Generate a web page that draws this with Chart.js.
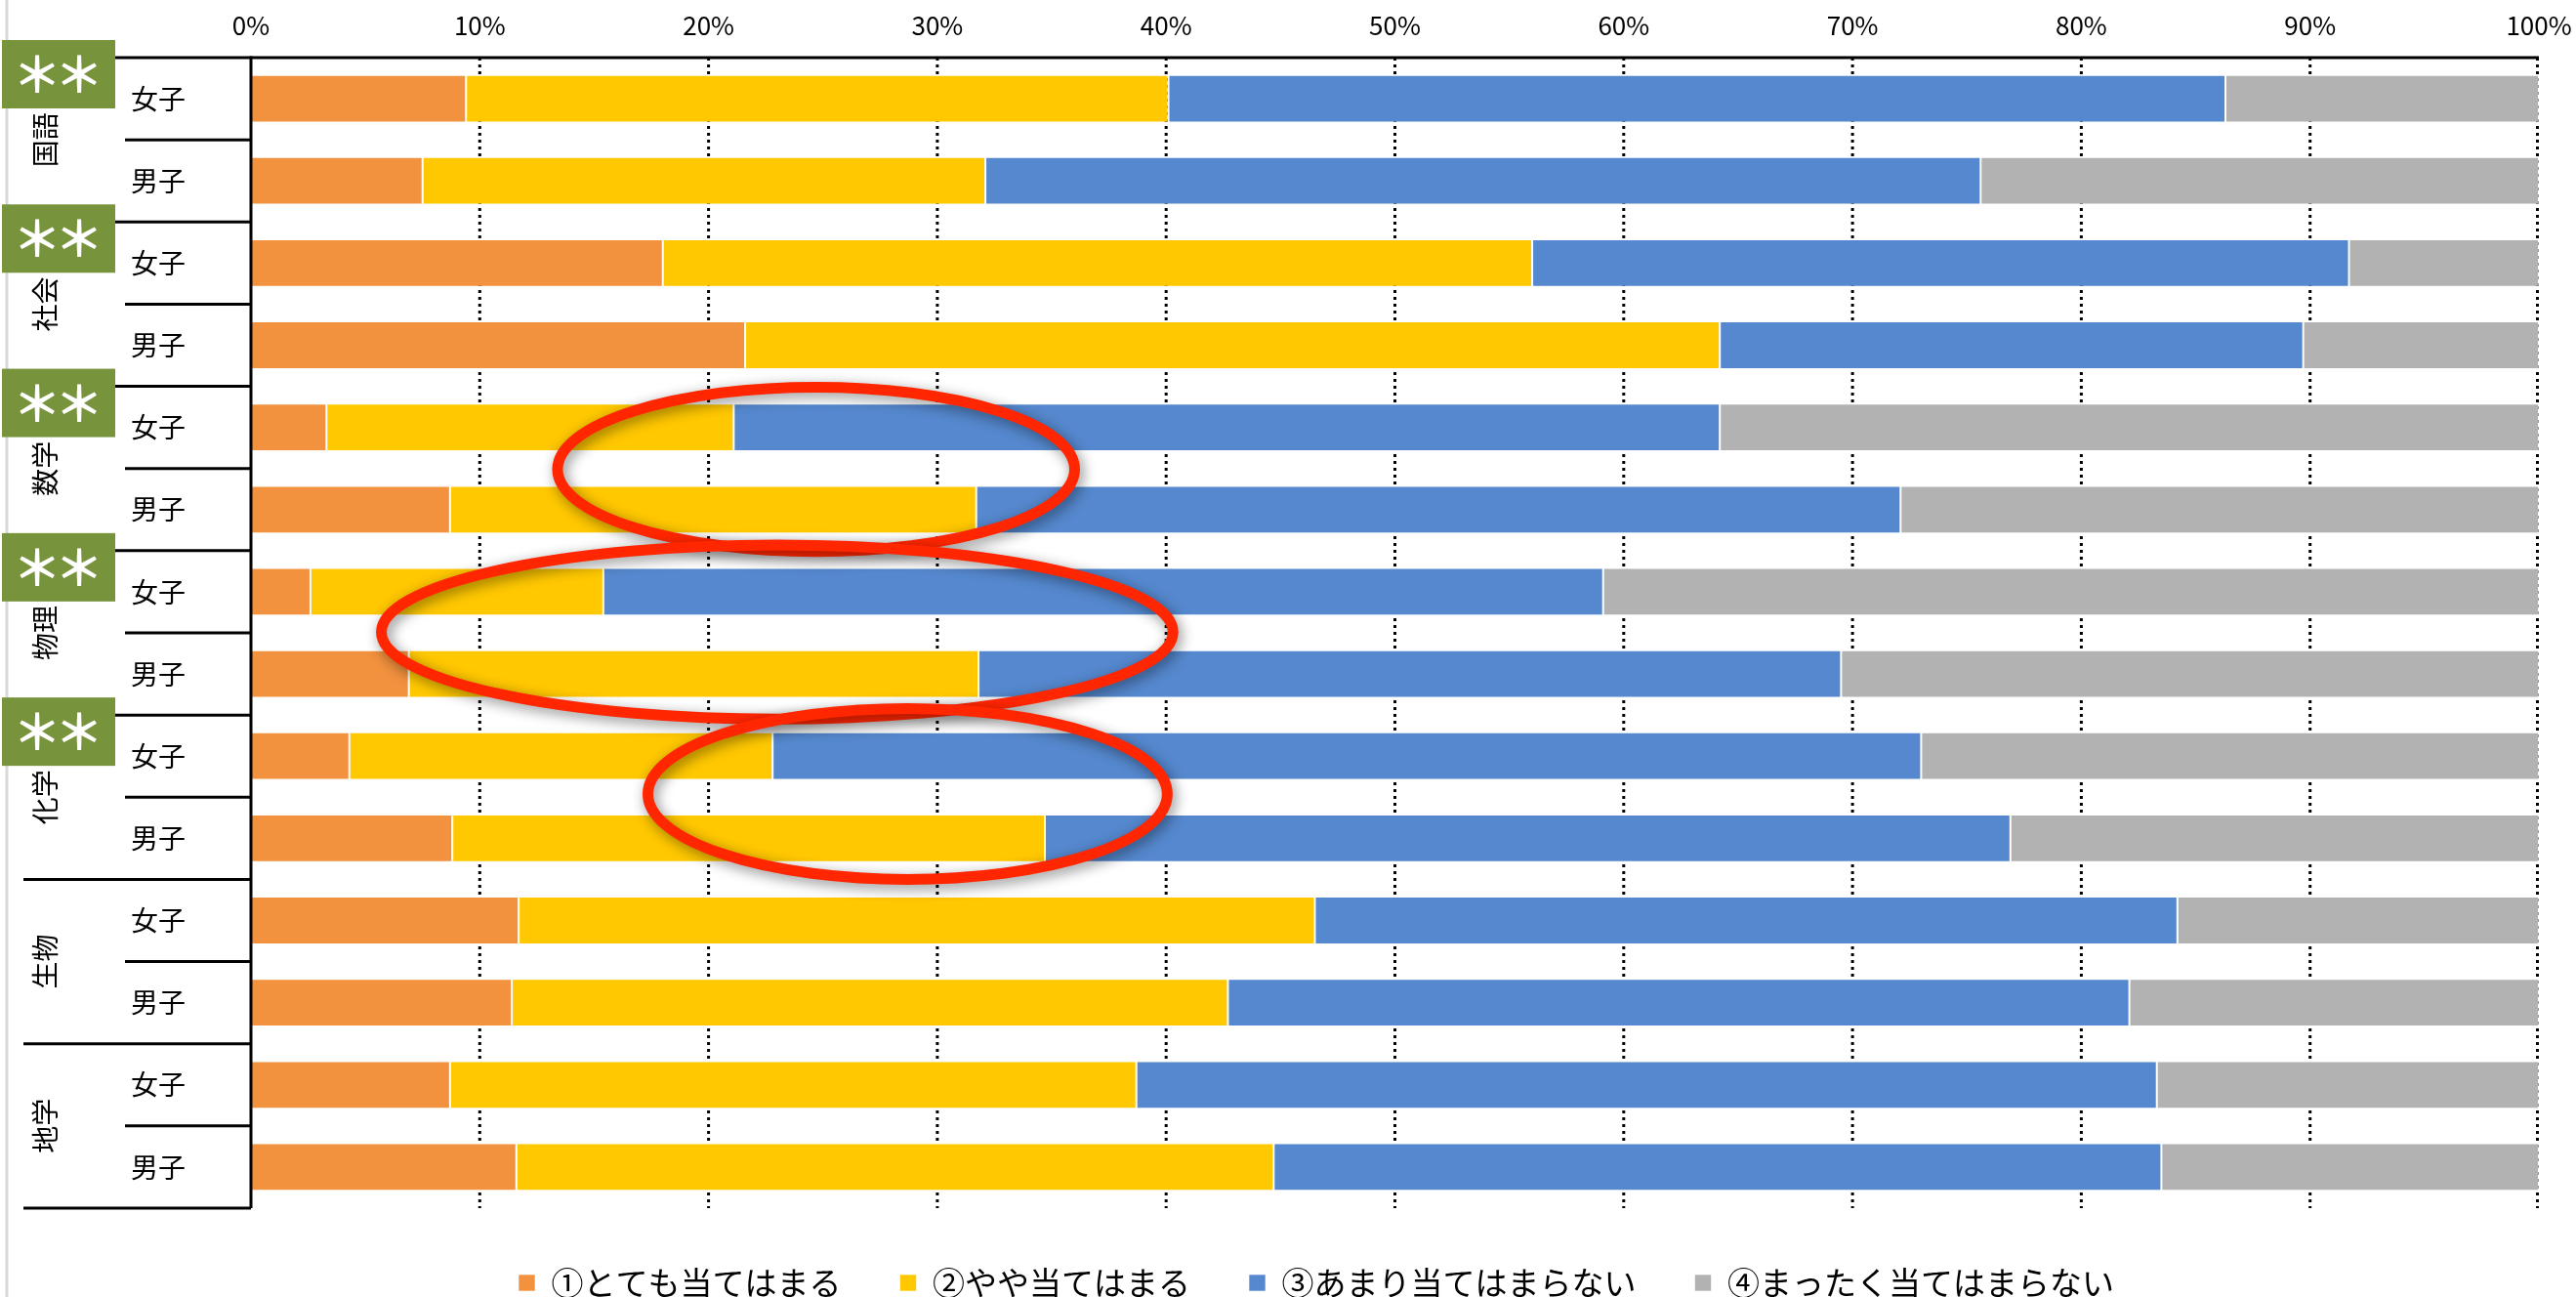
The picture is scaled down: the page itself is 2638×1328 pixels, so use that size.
<!DOCTYPE html>
<html><head><meta charset="utf-8">
<script src="https://cdn.jsdelivr.net/npm/chart.js@4.4.1/dist/chart.umd.min.js"></script>
<style>html,body{margin:0;padding:0;background:#fff;}</style>
</head><body>
<canvas id="c" width="2638" height="1328" style="width:2638px;height:1328px;display:block"></canvas>
<script>
// ---- data ----
const subjects = ['国語','社会','数学','物理','化学','生物','地学'];
const genders = ['女子','男子'];
const significant = [true, true, true, true, true, false, false];
const seriesNames = ['①とても当てはまる','②やや当てはまる','③あまり当てはまらない','④まったく当てはまらない'];
const veryTrue   = [9.4, 7.5, 18.0, 21.6, 3.3, 8.7, 2.6, 6.9, 4.3, 8.8, 11.7, 11.4, 8.7, 11.6];
const someTrue   = [30.7, 24.6, 38.0, 42.6, 17.8, 23.0, 12.8, 24.9, 18.5, 25.9, 34.8, 31.3, 30.0, 33.1];
const notMuch    = [46.2, 43.5, 35.7, 25.5, 43.1, 40.4, 43.7, 37.7, 50.2, 42.2, 37.7, 39.4, 44.6, 38.8];
const notAtAll   = [13.7, 24.4, 8.3, 10.3, 35.8, 27.9, 40.9, 30.5, 27.0, 23.1, 15.8, 17.9, 16.7, 16.5];
const xTickValues = [0, 10, 20, 30, 40, 50, 60, 70, 80, 90, 100];
// highlight ellipses (in data units: % on x, category index on y)
const hlCenterX = [24.7, 23.0, 28.7];
const hlCenterY = [4.51, 6.49, 8.46];
const hlRadiusX = [11.3, 17.3, 11.35];
const hlRadiusY = [1.0, 1.06, 1.04];

// ---- styles ----
const FONT = '"Noto Sans CJK JP", "Noto Sans", sans-serif';
const colors = ['rgb(242,145,62)', 'rgb(255,200,0)', 'rgb(85,136,206)', 'rgb(178,178,178)'];
const rowLabels = subjects.flatMap(() => genders);
const seriesData = [veryTrue, someTrue, notMuch, notAtAll];

const deco = {
  id: 'deco',
  beforeDatasetsDraw(chart) {
    const {ctx, chartArea: a, scales: {x}} = chart;
    ctx.save();
    ctx.strokeStyle = '#D9D9D9'; ctx.lineWidth = 3;
    ctx.beginPath(); ctx.moveTo(7, 0); ctx.lineTo(7, chart.height); ctx.stroke();
    ctx.strokeStyle = '#000'; ctx.lineWidth = 3; ctx.setLineDash([3, 4]);
    x.ticks.forEach(t => {
      if (t.value === 0) return;
      const px = Math.min(x.getPixelForValue(t.value), a.right - 1.5);
      ctx.beginPath(); ctx.moveTo(px, a.top); ctx.lineTo(px, a.bottom); ctx.stroke();
    });
    ctx.restore();
  },
  afterDatasetsDraw(chart) {
    const {ctx, chartArea: a, scales: {y}} = chart;
    ctx.save();
    ctx.strokeStyle = '#000'; ctx.lineWidth = 3; ctx.setLineDash([]);
    ctx.beginPath(); ctx.moveTo(a.left, a.top); ctx.lineTo(a.right, a.top); ctx.stroke();
    ctx.beginPath(); ctx.moveTo(a.left, a.top - 1.5); ctx.lineTo(a.left, a.bottom); ctx.stroke();
    for (let g = 0; g <= subjects.length; g++) {
      const yb = y.getPixelForValue(g * 2 - 0.5);
      ctx.beginPath(); ctx.moveTo(24, yb); ctx.lineTo(a.left, yb); ctx.stroke();
    }
    for (let g = 0; g < subjects.length; g++) {
      const yb = y.getPixelForValue(g * 2 + 0.5);
      ctx.beginPath(); ctx.moveTo(128, yb); ctx.lineTo(a.left, yb); ctx.stroke();
    }
    ctx.fillStyle = '#000'; ctx.font = '28px ' + FONT;
    ctx.textAlign = 'center'; ctx.textBaseline = 'middle';
    subjects.forEach((s, g) => {
      const cy = y.getPixelForValue(g * 2 + 0.5);
      ctx.save(); ctx.translate(46, cy); ctx.rotate(-Math.PI / 2);
      ctx.fillText(s, 0, 0); ctx.restore();
    });
    subjects.forEach((s, g) => {
      if (!significant[g]) return;
      const top = y.getPixelForValue(g * 2 - 0.5);
      ctx.fillStyle = 'rgb(119,147,60)';
      ctx.fillRect(2, top - 18, 116, 70);
      ctx.fillStyle = '#fff'; ctx.font = 'bold 50px ' + FONT;
      ctx.textAlign = 'center'; ctx.textBaseline = 'middle';
      ctx.fillText('＊', 38, top + 17);
      ctx.fillText('＊', 81, top + 17);
    });
    ctx.restore();
  },
  afterDraw(chart) {
    const {ctx, scales: {x, y}} = chart;
    ctx.save();
    hlCenterX.forEach((cxv, i) => {
      const cx = x.getPixelForValue(cxv);
      const rx = x.getPixelForValue(cxv + hlRadiusX[i]) - cx;
      const cy = y.getPixelForValue(hlCenterY[i]);
      const ry = y.getPixelForValue(hlCenterY[i] + hlRadiusY[i]) - cy;
      ctx.shadowColor = 'rgba(0,0,0,0.45)'; ctx.shadowBlur = 14;
      ctx.shadowOffsetX = 3; ctx.shadowOffsetY = 4;
      ctx.strokeStyle = 'rgb(255,38,0)'; ctx.lineWidth = 11;
      ctx.beginPath(); ctx.ellipse(cx, cy, rx, ry, 0, 0, Math.PI * 2); ctx.stroke();
    });
    ctx.restore();
  }
};

new Chart(document.getElementById('c'), {
  type: 'bar',
  data: {
    labels: rowLabels,
    datasets: seriesNames.map((n, i) => ({
      label: n, data: seriesData[i], backgroundColor: colors[i],
      borderColor: 'rgba(255,255,255,0.6)', borderWidth: 1, borderSkipped: false,
      barPercentage: 0.58, categoryPercentage: 1.0
    }))
  },
  options: {
    indexAxis: 'y', responsive: false, animation: false,
    layout: { padding: { left: 96, right: 38, top: 0, bottom: -12 } },
    scales: {
      x: {
        type: 'linear', position: 'top', stacked: true, min: 0, max: 100,
        afterBuildTicks: s => { s.ticks = xTickValues.map(v => ({ value: v })); },
        ticks: { callback: v => v + '%', font: { family: FONT, size: 26 }, color: '#000', padding: 17, maxRotation: 0, autoSkip: false },
        grid: { display: false, drawTicks: false }, border: { display: false },
        afterFit: s => { s.height = 59; s.paddingLeft = 0; s.paddingRight = 0; }
      },
      y: {
        type: 'category', stacked: true,
        ticks: { font: { family: FONT, size: 28 }, color: '#000', padding: 67, autoSkip: false },
        grid: { display: false, drawTicks: false }, border: { display: false },
        afterFit: s => { s.width = 161; s.paddingTop = 0; s.paddingBottom = 0; }
      }
    },
    plugins: {
      legend: {
        position: 'bottom',
        labels: { boxWidth: 17, boxHeight: 17, padding: 60, color: '#000', font: { family: FONT, size: 33 } }
      },
      tooltip: { enabled: false },
      title: { display: false }
    }
  },
  plugins: [deco]
});
</script>
</body></html>
